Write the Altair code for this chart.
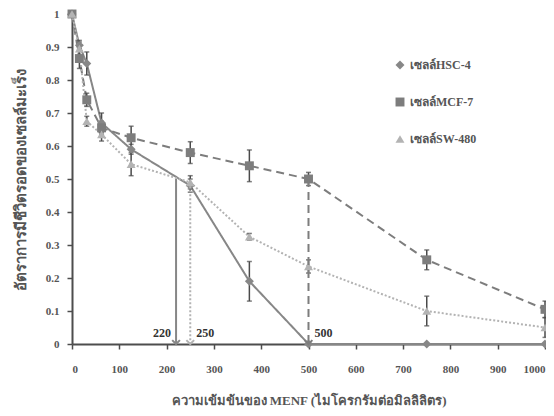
import altair as alt
import pandas as pd

conc = [0, 15.625, 31.25, 62.5, 125, 250, 375, 500, 750, 1000]
series_names = ["เซลล์HSC-4", "เซลล์MCF-7", "เซลล์SW-480"]
hsc4 = [1.0, 0.905, 0.85, 0.67, 0.59, 0.48, 0.19, 0.0, 0.0, 0.0]
hsc4_err = [0.0, 0.015, 0.035, 0.03, 0.015, 0.02, 0.06, 0.0, 0.0, 0.0]
mcf7 = [1.0, 0.865, 0.74, 0.655, 0.625, 0.58, 0.54, 0.50, 0.255, 0.105]
mcf7_err = [0.0, 0.03, 0.02, 0.02, 0.035, 0.033, 0.048, 0.02, 0.03, 0.025]
sw480 = [1.0, 0.895, 0.675, 0.635, 0.545, 0.49, 0.325, 0.235, 0.10, 0.05]
sw480_err = [0.0, 0.02, 0.015, 0.02, 0.035, 0.02, 0.01, 0.02, 0.045, 0.03]

ic50_cell = ["เซลล์HSC-4", "เซลล์SW-480", "เซลล์MCF-7"]
ic50_x = [220, 250, 500]
ic50_y = [0.5, 0.49, 0.5]
ic50_label = ["220", "250", "500"]

rows = []
for name, vals, errs in zip(series_names, [hsc4, mcf7, sw480], [hsc4_err, mcf7_err, sw480_err]):
    for c, v, e in zip(conc, vals, errs):
        rows.append({"cell": name, "conc": c, "v": v, "lo": v - e, "hi": v + e})
df = pd.DataFrame(rows)

arr = pd.DataFrame({"cell": ic50_cell, "conc": ic50_x, "v": ic50_y, "label": ic50_label,
                    "zero": [0, 0, 0]})

FONT = "Liberation Serif"
colors = ["#878787", "#7d7d7d", "#b3b3b3"]
dashes = [[1, 0], [8, 5], [2, 2]]
shapes = ["diamond", "square", "triangle-up"]

xs = alt.Scale(domain=[0, 1000], nice=False)
ys = alt.Scale(domain=[0, 1], nice=False)
x_axis = alt.Axis(title="ความเข้มข้นของ MENF (ไมโครกรัมต่อมิลลิลิตร)", values=list(range(0, 1001, 100)),
                  grid=False, labelPadding=14, titlePadding=20, format="d")
y_axis = alt.Axis(title="อัตราการมีชีวิตรอดของเซลล์มะเร็ง", values=[i / 10 for i in range(11)],
                  grid=False, labelPadding=8, titlePadding=17, format="~g", titleFontSize=15)


def X(f):
    return alt.X(f, scale=xs, axis=x_axis)


def Y(f):
    return alt.Y(f, scale=ys, axis=y_axis)


color_enc = alt.Color("cell:N", sort=series_names, scale=alt.Scale(domain=series_names, range=colors),
                      legend=alt.Legend(title=None, orient="none", legendX=322, legendY=45,
                                        labelFont=FONT, labelFontSize=12, labelColor="#555555",
                                        rowPadding=25, symbolSize=80, symbolStrokeWidth=0,
                                        labelFontWeight="bold"))
shape_enc = alt.Shape("cell:N", sort=series_names, scale=alt.Scale(domain=series_names, range=shapes))
dash_enc = alt.StrokeDash("cell:N", sort=series_names, scale=alt.Scale(domain=series_names, range=dashes))

lines = alt.Chart(df).mark_line(strokeWidth=2).encode(x=X("conc:Q"), y=Y("v:Q"), color=color_enc,
                                                      strokeDash=dash_enc)

err_rules = alt.Chart(df).mark_rule(color="#4a4a4a", strokeWidth=1.5).encode(
    x=X("conc:Q"), y=Y("lo:Q"), y2="hi:Q")
caps_lo = alt.Chart(df).mark_tick(color="#4a4a4a", thickness=1.5, size=5, orient="horizontal").encode(
    x=X("conc:Q"), y=Y("lo:Q"))
caps_hi = alt.Chart(df).mark_tick(color="#4a4a4a", thickness=1.5, size=5, orient="horizontal").encode(
    x=X("conc:Q"), y=Y("hi:Q"))

pts = alt.Chart(df).mark_point(filled=True, size=80, opacity=1).encode(
    x=X("conc:Q"), y=Y("v:Q"), color=color_enc, shape=shape_enc)

arrow_lines = alt.Chart(arr).mark_rule(strokeWidth=2).encode(
    x=X("conc:Q"), y=Y("v:Q"), y2="zero:Q", color=color_enc, strokeDash=dash_enc)
arrow_heads = alt.Chart(arr).mark_point(shape="M-1,-1L0,0L1,-1", size=60, strokeWidth=2, filled=False,
                                        opacity=1).encode(
    x=X("conc:Q"), y=Y("zero:Q"), color=color_enc)

lab_left = alt.Chart(arr).transform_filter(alt.datum.label == "220").mark_text(
    font=FONT, fontSize=12, fontWeight="bold", color="#333333", baseline="bottom", align="right",
    dy=-4, dx=-5).encode(x=X("conc:Q"), y=Y("zero:Q"), text="label:N")
lab_right = alt.Chart(arr).transform_filter(alt.datum.label != "220").mark_text(
    font=FONT, fontSize=12, fontWeight="bold", color="#333333", baseline="bottom", align="left",
    dy=-4, dx=6).encode(x=X("conc:Q"), y=Y("zero:Q"), text="label:N")

chart = alt.layer(lines, err_rules, caps_lo, caps_hi, pts, arrow_lines, arrow_heads, lab_left,
                  lab_right).properties(
    width=473, height=330,
    autosize=alt.AutoSizeParams(type="none"),
    padding={"left": 64, "top": 6, "right": 1, "bottom": 64},
).configure_view(stroke=None).configure_axis(
    domainColor="#4d4d4d", domainWidth=2, tickColor="#4d4d4d", tickWidth=1.5, tickSize=5,
    labelFont=FONT, labelFontSize=11, labelFontWeight="bold", labelColor="#555555",
    titleFont=FONT, titleFontSize=13, titleFontWeight="bold", titleColor="#555555",
)

chart.save("out.html", embed_options={"renderer": "svg", "actions": False})
